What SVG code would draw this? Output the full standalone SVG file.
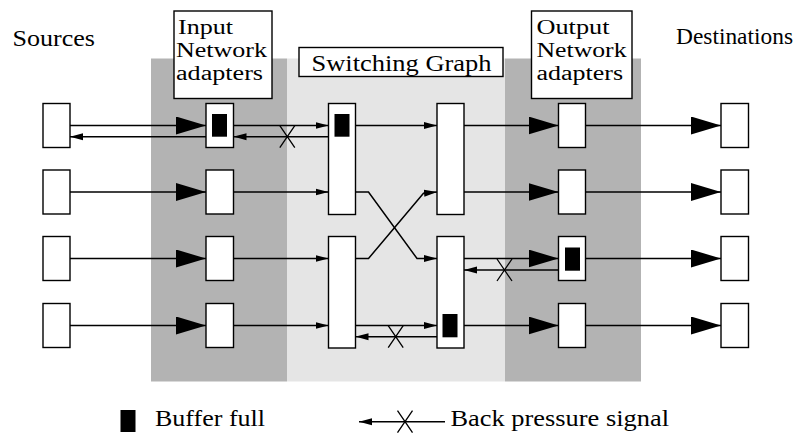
<svg xmlns="http://www.w3.org/2000/svg" width="808" height="435" viewBox="0 0 808 435">
<defs>
<style>
.box{fill:#fff;stroke:#000;stroke-width:1.4}
.buf{fill:#000}
.ln{fill:none;stroke:#000;stroke-width:1.5}
.x{fill:none;stroke:#000;stroke-width:1.3}
.big{marker-end:url(#big)}
.sm{marker-end:url(#small)}
</style>
<marker id="big" markerWidth="30" markerHeight="18" refX="30" refY="9" orient="auto" markerUnits="userSpaceOnUse"><path d="M0,0 L30,9 L0,18 z" fill="#000"/></marker>
<marker id="small" markerWidth="13" markerHeight="8" refX="13" refY="4" orient="auto" markerUnits="userSpaceOnUse"><path d="M0,0.5 L13,4 L0,7.5 z" fill="#000"/></marker>
</defs>
<g id="panels">
<rect x="151" y="58.5" width="136" height="323" fill="#b3b3b3"/>
<rect x="287" y="58.5" width="218" height="323" fill="#e5e5e5"/>
<rect x="505" y="58.5" width="136" height="323" fill="#b3b3b3"/>
</g>
<g font-family="Liberation Serif, Times New Roman, serif" font-size="23" fill="#000">
<g id="labels">
<text x="12.5" y="45.5" textLength="82.5" lengthAdjust="spacingAndGlyphs">Sources</text>
<text x="676" y="44" textLength="117" lengthAdjust="spacingAndGlyphs">Destinations</text>
</g>
<g id="input-label">
<rect class="box" x="174" y="11" width="98" height="87.5"/>
<text x="178" y="34" font-size="20" textLength="55" lengthAdjust="spacingAndGlyphs">Input</text>
<text x="176" y="56.5" font-size="20" textLength="91" lengthAdjust="spacingAndGlyphs">Network</text>
<text x="176" y="79.5" font-size="20" textLength="87" lengthAdjust="spacingAndGlyphs">adapters</text>
</g>
<g id="switch-label">
<rect class="box" x="299" y="47.5" width="204" height="29"/>
<text x="311.5" y="71" textLength="180" lengthAdjust="spacingAndGlyphs">Switching Graph</text>
</g>
<g id="output-label">
<rect class="box" x="531.5" y="11" width="100.5" height="87.5"/>
<text x="536.5" y="34" font-size="20" textLength="73" lengthAdjust="spacingAndGlyphs">Output</text>
<text x="536.5" y="56.5" font-size="20" textLength="90" lengthAdjust="spacingAndGlyphs">Network</text>
<text x="536.5" y="79.5" font-size="20" textLength="86.5" lengthAdjust="spacingAndGlyphs">adapters</text>
</g>
</g>
<g id="connectors">
<path class="ln big" d="M70,125.5 H206"/>
<path class="ln big" d="M70,192 H206"/>
<path class="ln big" d="M70,258.5 H206"/>
<path class="ln big" d="M70,325.5 H206"/>
<path class="ln sm" d="M206,136.7 H70"/>
<path class="ln sm" d="M233.5,125.5 H328.5"/>
<path class="ln sm" d="M233.5,192 H328.5"/>
<path class="ln sm" d="M233.5,258.5 H328.5"/>
<path class="ln sm" d="M233.5,325.5 H328.5"/>
<path class="ln sm" d="M328.5,136.7 H233.5"/>
<path class="x" d="M279.8,125.7 L294.8,147.7 M294.8,125.7 L279.8,147.7"/>
<path class="ln sm" d="M355.5,125.5 H437"/>
<path class="ln sm" d="M355.5,192 H368.5 L417,258.5 H437"/>
<path class="ln sm" d="M355.5,258.5 H368.5 L423.5,193.3 L437,192"/>
<path class="ln sm" d="M355.5,325.5 H437"/>
<path class="ln sm" d="M437,336.7 H355.5"/>
<path class="x" d="M388.2,325.7 L403.2,347.7 M403.2,325.7 L388.2,347.7"/>
<path class="ln big" d="M464,125.5 H558.5"/>
<path class="ln big" d="M464,192 H558.5"/>
<path class="ln big" d="M464,258.5 H558.5"/>
<path class="ln big" d="M464,325.5 H558.5"/>
<path class="ln sm" d="M558.5,270 H464"/>
<path class="x" d="M497,259 L512,281 M512,259 L497,281"/>
<path class="ln big" d="M585.5,125.5 H721"/>
<path class="ln big" d="M585.5,192 H721"/>
<path class="ln big" d="M585.5,258.5 H721"/>
<path class="ln big" d="M585.5,325.5 H721"/>
</g>
<g id="src1"><rect class="box" x="43" y="103.5" width="27" height="44"/></g>
<g id="src2"><rect class="box" x="43" y="170" width="27" height="44"/></g>
<g id="src3"><rect class="box" x="43" y="236.5" width="27" height="44"/></g>
<g id="src4"><rect class="box" x="43" y="303.5" width="27" height="44"/></g>
<g id="in1"><rect class="box" x="206" y="103.5" width="27.5" height="44"/><rect class="buf" x="212" y="114" width="15" height="22.7"/></g>
<g id="in2"><rect class="box" x="206" y="170" width="27.5" height="44"/></g>
<g id="in3"><rect class="box" x="206" y="236.5" width="27.5" height="44"/></g>
<g id="in4"><rect class="box" x="206" y="303.5" width="27.5" height="44"/></g>
<g id="sw1a"><rect class="box" x="328.5" y="103.5" width="27" height="111"/><rect class="buf" x="334.5" y="114" width="15" height="22.7"/></g>
<g id="sw1b"><rect class="box" x="328.5" y="236.5" width="27" height="111.5"/></g>
<g id="sw2a"><rect class="box" x="437" y="103.5" width="27" height="111"/></g>
<g id="sw2b"><rect class="box" x="437" y="236.5" width="27" height="111.5"/><rect class="buf" x="442.5" y="314" width="15" height="23.3"/></g>
<g id="out1"><rect class="box" x="558.5" y="103.5" width="27" height="44"/></g>
<g id="out2"><rect class="box" x="558.5" y="170" width="27" height="44"/></g>
<g id="out3"><rect class="box" x="558.5" y="236.5" width="27" height="44"/><rect class="buf" x="565" y="247.5" width="15" height="23.2"/></g>
<g id="out4"><rect class="box" x="558.5" y="303.5" width="27" height="44"/></g>
<g id="dst1"><rect class="box" x="721" y="103.5" width="27.5" height="44"/></g>
<g id="dst2"><rect class="box" x="721" y="170" width="27.5" height="44"/></g>
<g id="dst3"><rect class="box" x="721" y="236.5" width="27.5" height="44"/></g>
<g id="dst4"><rect class="box" x="721" y="303.5" width="27.5" height="44"/></g>
<g id="legend-buffer">
<rect class="buf" x="120.5" y="410" width="15" height="22"/>
<text x="155" y="425.5" font-family="Liberation Serif, Times New Roman, serif" font-size="23" textLength="110" lengthAdjust="spacingAndGlyphs">Buffer full</text>
</g>
<g id="legend-backpressure">
<path class="ln sm" d="M445,421.7 H359"/>
<path class="x" d="M397.5,410.7 L412.5,432.7 M412.5,410.7 L397.5,432.7"/>
<text x="450.5" y="426" font-family="Liberation Serif, Times New Roman, serif" font-size="23" textLength="218.5" lengthAdjust="spacingAndGlyphs">Back pressure signal</text>
</g>
</svg>
